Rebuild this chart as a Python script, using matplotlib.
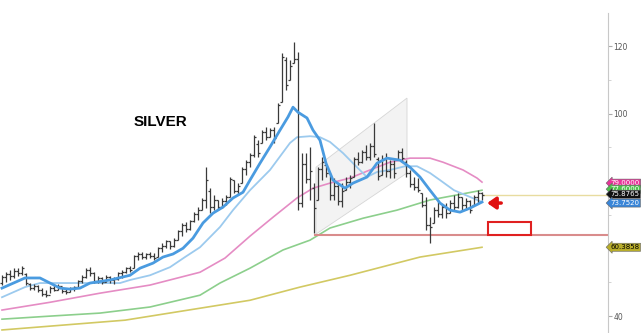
import matplotlib
matplotlib.use('Agg')
import matplotlib.pyplot as plt
import numpy as np
from matplotlib.patches import Polygon, Rectangle

# weekly bars
highs = [52.1, 53.0, 53.6, 54.2, 54.2, 54.8, 52.7, 49.8, 49.5, 49.2,
         48.3, 47.7, 48.9, 49.2, 49.5, 48.6, 48.3, 48.6, 48.9, 50.7,
         52.1, 54.2, 54.5, 53.0, 51.9, 51.6, 52.1, 51.9, 51.6, 53.0,
         53.6, 54.5, 54.8, 58.1, 59.0, 59.0, 58.7, 59.0, 58.7, 60.4,
         61.6, 62.5, 62.2, 63.1, 65.5, 67.6, 67.9, 68.4, 70.8, 72.3,
         75.0, 84.1, 77.9, 75.9, 74.4, 75.0, 75.9, 81.2, 80.3, 79.4,
         84.1, 86.2, 88.3, 93.6, 92.1, 95.1, 96.0, 95.7, 96.0, 103.1,
         117.9, 116.7, 115.9, 121.2, 118.2, 88.3, 88.3, 90.0, 79.4, 84.1,
         87.1, 84.7, 82.4, 80.9, 79.4, 79.4, 81.2, 81.8, 87.1, 88.6,
         89.2, 90.7, 91.3, 97.2, 87.1, 87.7, 88.3, 86.2, 86.2, 89.2,
         89.8, 86.2, 83.3, 81.2, 80.9, 76.4, 75.3, 69.3, 72.3, 74.4,
         72.9, 73.5, 74.4, 75.9, 76.4, 75.3, 75.0, 74.4, 75.9, 77.3,
         76.7]
lows = [49.2, 50.1, 50.7, 51.3, 51.9, 52.1, 49.2, 47.7, 47.7, 47.1,
        45.9, 45.6, 46.8, 47.4, 47.7, 46.8, 46.5, 47.1, 47.4, 48.3,
        49.8, 51.3, 51.9, 49.8, 49.8, 49.5, 50.1, 49.8, 49.5, 50.7,
        51.3, 52.7, 53.0, 54.2, 56.6, 56.9, 56.9, 57.2, 56.6, 57.5,
        59.0, 60.1, 59.9, 60.4, 62.5, 63.7, 64.9, 65.5, 67.9, 68.4,
        71.4, 72.0, 70.5, 71.4, 71.4, 72.0, 72.9, 75.3, 76.4, 75.9,
        79.4, 81.8, 84.1, 87.1, 87.1, 91.3, 92.1, 93.0, 91.3, 97.2,
        103.4, 107.0, 109.9, 115.0, 71.4, 72.3, 79.4, 74.4, 64.6, 74.4,
        80.3, 81.2, 74.4, 74.4, 72.9, 72.3, 77.3, 77.9, 81.2, 84.7,
        85.3, 86.2, 86.2, 87.1, 80.3, 81.8, 81.2, 80.9, 80.9, 86.2,
        85.6, 81.2, 78.2, 77.3, 76.7, 72.3, 65.5, 61.6, 67.6, 69.3,
        69.0, 69.0, 70.5, 71.4, 72.0, 71.4, 71.4, 70.5, 72.9, 73.5,
        74.4]
opens = [49.8, 51.6, 52.4, 51.9, 53.4, 52.7, 52.4, 49.5, 48.3, 48.9,
         47.7, 46.5, 46.2, 48.3, 47.7, 48.9, 47.4, 47.1, 48.3, 48.6,
         50.4, 51.6, 53.6, 52.7, 50.4, 51.3, 50.1, 51.6, 50.7, 51.0,
         52.7, 53.0, 54.2, 54.4, 57.8, 58.4, 57.5, 58.4, 57.8, 57.5,
         60.1, 60.7, 62.2, 60.7, 62.5, 65.2, 67.0, 65.8, 68.1, 70.2,
         71.4, 74.4, 77.0, 72.3, 74.4, 72.3, 74.1, 75.3, 80.3, 77.0,
         79.4, 83.5, 85.6, 87.7, 91.0, 91.3, 94.5, 93.0, 95.1, 97.2,
         103.4, 116.0, 109.9, 115.0, 116.1, 73.5, 85.0, 80.6, 78.0, 74.4,
         83.5, 84.7, 82.4, 75.9, 78.5, 74.1, 77.3, 79.7, 81.2, 86.5,
         85.6, 88.6, 87.1, 90.4, 86.5, 81.8, 86.5, 83.0, 85.0, 86.5,
         88.6, 85.6, 82.4, 79.1, 78.2, 76.4, 72.9, 67.0, 67.6, 71.4,
         70.2, 72.3, 70.5, 73.5, 72.3, 75.3, 72.9, 74.1, 72.9, 75.3,
         76.4]
closes = [51.6, 52.4, 51.9, 53.4, 52.7, 54.2, 49.8, 48.3, 48.9, 47.7,
          46.5, 46.2, 48.3, 47.7, 48.9, 47.4, 47.1, 48.3, 48.6, 50.4,
          51.6, 53.6, 52.7, 50.4, 51.3, 50.1, 51.6, 50.7, 51.0, 52.7,
          53.0, 54.2, 53.6, 57.8, 58.4, 57.5, 58.4, 57.8, 57.2, 60.1,
          60.7, 62.2, 60.7, 62.5, 65.2, 67.0, 65.8, 68.1, 70.2, 71.4,
          74.4, 80.3, 72.3, 74.4, 72.3, 74.1, 75.3, 80.6, 77.0, 78.5,
          83.5, 85.6, 87.7, 93.0, 88.3, 94.5, 93.0, 95.1, 92.7, 102.5,
          116.7, 108.5, 114.1, 116.1, 73.5, 85.0, 80.6, 83.0, 72.0, 83.5,
          85.6, 82.4, 75.9, 78.5, 74.1, 77.0, 79.7, 80.9, 86.5, 85.6,
          88.6, 87.1, 90.4, 88.0, 81.5, 86.5, 83.0, 85.0, 82.4, 88.6,
          86.8, 82.4, 79.1, 78.2, 77.3, 72.9, 67.0, 66.4, 71.4, 70.2,
          72.3, 70.5, 73.5, 72.3, 75.3, 72.9, 74.1, 71.4, 75.3, 76.4,
          75.9]

# moving averages, sampled along the picture (bar index, price)
fast_x = [0, 5.75, 9.5, 12, 14.5, 17, 19.5, 22, 27, 32, 34.5, 37.75, 40.25, 42.75,
          45.25, 47.75, 50.25, 52.75, 55.25, 57.75, 60.25, 62, 64.5, 67, 69.5, 71.5,
          72.75, 74, 76.25, 77.75, 79.5, 81, 82.75, 85.75, 87.75, 91.25, 93.75,
          96.25, 99.5, 102, 104.5, 107, 109.5, 112, 114.5, 117, 120]
fast_y = [48.3, 51.3, 51.3, 49.8, 48.3, 48.0, 48.3, 49.8, 50.7, 52.1, 54.2, 55.7, 57.5, 58.4,
          60.1, 63.1, 67.6, 70.5, 72.3, 75.0, 76.7, 80.3, 85.3, 90.1, 95.1, 99.0,
          101.9, 100.4, 98.7, 95.1, 92.1, 85.3, 80.3, 77.9, 79.4, 81.2, 85.3,
          86.8, 86.2, 84.1, 81.2, 77.3, 73.5, 71.4, 70.8, 72.0, 73.8]
mid_x = [0, 5.75, 9.5, 19.5, 29.5, 32, 37, 42, 45.75, 49.5, 54.5, 57.75, 62, 67, 72,
         73.75, 77, 79.5, 82, 85.25, 88.75, 91.25, 93.75, 97, 100.75, 103.75, 107,
         109.5, 113, 117, 120]
mid_y = [45.6, 48.6, 49.8, 49.8, 49.8, 50.7, 52.1, 54.5, 57.5, 60.4, 66.4, 71.4, 77.3, 83.3, 91.3,
         93.0, 93.3, 93.0, 91.6, 88.3, 84.1, 81.2, 82.7, 83.3, 84.4, 84.4, 82.4,
         80.3, 77.3, 75.3, 73.8]
ma50_x = [0, 12, 24.5, 37, 49.5, 55.75, 62, 67.75, 73.75, 77.75, 82, 87, 92, 97,
          102, 107, 110.25, 115.25, 118.75, 120]
ma50_y = [41.8, 44.1, 46.8, 49.2, 53.0, 57.2, 63.7, 69.3, 75.0, 77.9, 79.4, 80.9, 83.3, 85.6,
          86.8, 86.8, 85.6, 83.3, 80.9, 79.7]
ma100_x = [0, 12, 24.5, 37, 49.5, 54.5, 62, 70.25, 77, 82, 90.25, 98.75, 107, 113.75, 120]
ma100_y = [39.1, 40.0, 40.9, 42.7, 46.2, 49.8, 54.2, 59.6, 62.5, 66.1, 69.0, 71.4, 74.4, 75.9, 77.3]
ma200_x = [0, 30.75, 62, 74.5, 87, 104.5, 120]
ma200_y = [35.9, 38.8, 44.7, 48.6, 52.1, 57.5, 60.4]

channel_x = [78.5, 78.5, 101.25, 101.25]
channel_y = [64.3, 84.1, 104.6, 82.4]
support = 64.0
last_price = 75.8765

tags = [(79.4, '79.0000', '#e8359a', 'white'),
        (77.6, '77.6000', '#4cc24c', 'white'),
        (76.1, '75.8765', '#111111', 'white'),
        (73.5, '73.7520', '#3a86d8', 'white'),
        (60.4, '60.3858', '#b8ad2a', 'black')]

fig = plt.figure(figsize=(6.42, 3.33), dpi=100)
ax = fig.add_axes([0, 0, 608 / 642, 320 / 333])
ax.set_xlim(-0.5, 151.5)
ax.set_ylim(35.0, 129.8)

ax.add_patch(Polygon(list(zip(channel_x, channel_y)), closed=True,
                     facecolor='#f3f3f3', edgecolor='#d6d6d6', lw=0.6, zorder=1))

ax.plot(ma200_x, ma200_y, color='#d2c963', lw=1.2, zorder=2)
ax.plot(ma100_x, ma100_y, color='#8ccf8c', lw=1.2, zorder=2)
ax.plot(ma50_x, ma50_y, color='#e58cc4', lw=1.2, zorder=2)
ax.plot(mid_x, mid_y, color='#9ccaee', lw=1.3, zorder=2)
ax.plot(fast_x, fast_y, color='#4a9be0', lw=2.0, zorder=4)

idx = np.arange(len(closes))
ax.vlines(idx, lows, highs, color='#3a3a3a', lw=0.9, zorder=3)
ax.hlines(opens, idx - 0.45, idx, color='#3a3a3a', lw=0.9, zorder=3)
ax.hlines(closes, idx, idx + 0.45, color='#3a3a3a', lw=0.9, zorder=3)

ax.plot([120.25, 151.5], [last_price, last_price], color='#e8dca0', lw=1.0, zorder=2)
ax.plot([78.3, 151.5], [support, support], color='#d98c8c', lw=1.5, zorder=2)

ax.add_patch(Rectangle((121.5, 64.1), 10.75, 3.8, facecolor='white',
                       edgecolor='#e02020', lw=1.5, zorder=5))
ax.annotate('', xy=(120.6, 73.5), xytext=(125.5, 73.5),
            arrowprops=dict(arrowstyle='-|>,head_length=0.5,head_width=0.35',
                            color='#e01010', lw=2.5), zorder=6)

ax.text(33, 97.6, 'SILVER', fontsize=11, fontweight='bold',
        family='Liberation Sans', color='black', ha='left', va='center')

for s in ['top', 'left', 'bottom']:
    ax.spines[s].set_visible(False)
ax.spines['right'].set_color('#c8c8c8')
ax.spines['right'].set_linewidth(0.8)
ax.set_xticks([])
ax.yaxis.tick_right()
# 60 and 80 sit under the price tags
ax.set_yticks([40, 60, 80, 100, 120], ['40', '', '', '100', '120'])
ax.set_yticks([50, 70, 90, 110], minor=True)
ax.tick_params(axis='y', which='major', length=3, color='#aaaaaa',
               labelsize=5.5, labelcolor='#555555', pad=1)
ax.tick_params(axis='y', which='minor', length=2, color='#cccccc')

for price, txt, bg, fg in tags:
    ax.text(1.004, price, txt, transform=ax.get_yaxis_transform(), fontsize=5,
            color=fg, va='center', ha='left', zorder=10, clip_on=False,
            bbox=dict(boxstyle='larrow,pad=0.15', facecolor=bg, edgecolor='#666666', lw=0.4))

fig.savefig('out.png', dpi=100)
